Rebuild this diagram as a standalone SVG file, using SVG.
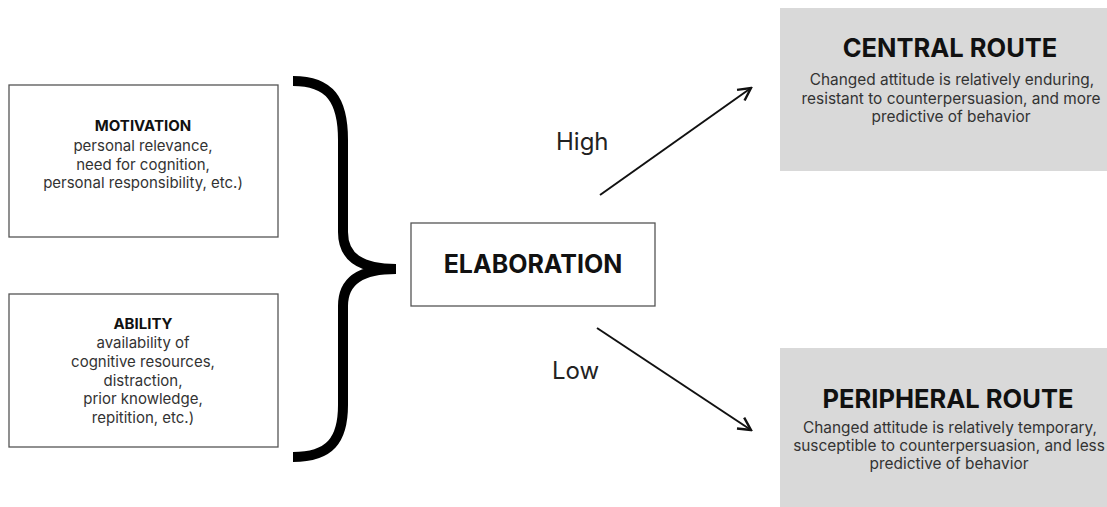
<svg xmlns="http://www.w3.org/2000/svg" width="1107" height="507" viewBox="0 0 1107 507">
<defs>
<style>
.box{fill:#fff;stroke:#555;stroke-width:1.3}
.route{fill:#d9d9d9}
.t{font-family:Inter,"Liberation Sans",sans-serif;text-anchor:middle}
.h{font-weight:700;fill:#111;font-size:15px}
.b{fill:#333;font-size:15px}
.rt{font-weight:700;fill:#111;font-size:25.5px}
.rb{fill:#333;font-size:15.4px}
.lbl{fill:#222;font-size:24px;font-family:Inter,"Liberation Sans",sans-serif}
.conn{stroke:#111;stroke-width:2;fill:none}
</style>
<marker id="ah" viewBox="0 0 16 16" refX="14" refY="8" markerWidth="16" markerHeight="16" markerUnits="userSpaceOnUse" orient="auto">
<path d="M1.5,1.5 L14,8 L1.5,14.5" fill="none" stroke="#111" stroke-width="2.4"/>
</marker>
</defs>
<rect width="1107" height="507" fill="#fff"/>
<g id="motivation">
<rect class="box" x="9" y="85" width="269" height="152"/>
<text class="t h" x="143" y="131">MOTIVATION</text>
<text class="t b" x="143" y="151">personal relevance,</text>
<text class="t b" x="143" y="170">need for cognition,</text>
<text class="t b" x="143" y="188">personal responsibility, etc.)</text>
</g>
<g id="ability">
<rect class="box" x="9" y="294" width="269" height="153"/>
<text class="t h" x="143" y="329">ABILITY</text>
<text class="t b" x="143" y="348">availability of</text>
<text class="t b" x="143" y="367">cognitive resources,</text>
<text class="t b" x="143" y="386">distraction,</text>
<text class="t b" x="143" y="404">prior knowledge,</text>
<text class="t b" x="143" y="423">repitition, etc.)</text>
</g>
<g id="brace">
<path d="M293,81 C330,81 343,100 343,140 L343,232 C343,258 362,269 396,269 C362,269 343,280 343,306 L343,405 C343,440 330,457 293,457" fill="none" stroke="#000" stroke-width="10"/>
</g>
<g id="elaboration">
<rect class="box" x="411" y="223" width="244" height="83"/>
<text class="t" x="533" y="273" font-size="25" font-weight="700" fill="#111">ELABORATION</text>
</g>
<g id="central">
<rect class="route" x="780" y="8" width="327" height="163"/>
<text class="t rt" x="950" y="57">CENTRAL ROUTE</text>
<text class="t rb" x="952" y="85">Changed attitude is relatively enduring,</text>
<text class="t rb" x="951" y="104">resistant to counterpersuasion, and more</text>
<text class="t rb" x="951" y="122">predictive of behavior</text>
</g>
<g id="peripheral">
<rect class="route" x="780" y="348" width="327" height="159"/>
<text class="t rt" x="948" y="408">PERIPHERAL ROUTE</text>
<text class="t rb" x="950" y="433">Changed attitude is relatively temporary,</text>
<text class="t rb" x="949" y="451">susceptible to counterpersuasion, and less</text>
<text class="t rb" x="949" y="469">predictive of behavior</text>
</g>
<g id="connectors">
<line class="conn" x1="600" y1="195" x2="751" y2="88" marker-end="url(#ah)"/>
<line class="conn" x1="597" y1="328" x2="751" y2="430" marker-end="url(#ah)"/>
<text class="lbl" x="556" y="150">High</text>
<text class="lbl" x="552" y="379">Low</text>
</g>
</svg>
